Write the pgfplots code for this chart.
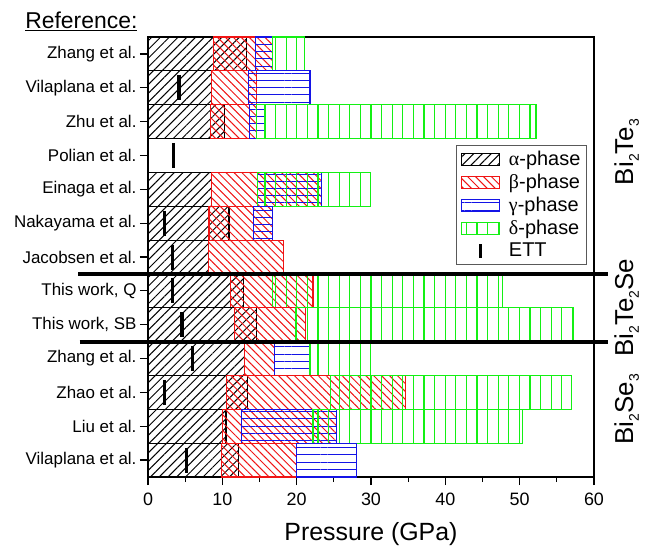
\documentclass[border=0pt]{standalone}
\usepackage{pgfplots}
\pgfplotsset{compat=1.18}
\usetikzlibrary{patterns.meta}
\usepackage{fontspec}
\setmainfont{Liberation Sans}
\newfontfamily\grk{Liberation Serif}

\definecolor{dgreen}{RGB}{20,240,20}
\definecolor{dblue}{RGB}{20,20,230}
\definecolor{dred}{RGB}{240,20,20}

\tikzset{
  alpha/.style={draw=black, line width=1.1bp, pattern={Lines[angle=45,distance=6.2bp,line width=1bp]}, pattern color=black},
  beta/.style={draw=dred, line width=1.1bp, pattern={Lines[angle=-45,distance=5.6bp,line width=1bp]}, pattern color=dred},
  gamma/.style={draw=dblue, line width=1.1bp, pattern={Lines[angle=0,distance=7.2bp,line width=1.1bp]}, pattern color=dblue},
  delta/.style={draw=dgreen, line width=1.1bp, pattern={Lines[angle=90,distance=10.6bp,line width=1.1bp]}, pattern color=dgreen},
}
\pgfplotsset{
  rectleg/.style={legend image code/.code={\draw[##1] (0bp,-6bp) rectangle (38bp,6bp);}},
  ettleg/.style={legend image code/.code={\draw[black, line width=3bp] (19bp,-7bp) -- (19bp,7bp);}},
}
\newcommand{\sub}[1]{\raisebox{-0.22em}{\fontsize{14}{14}\selectfont #1}}

% \seg{style}{row}{from}{to}
\newcommand{\seg}[4]{%
  \pgfmathsetmacro\ya{#2-0.5}\pgfmathsetmacro\yb{#2+0.5}%
  \edef\tmp{\noexpand\addplot[#1, forget plot] coordinates {(#3,\ya) (#4,\ya) (#4,\yb) (#3,\yb)} -- cycle;}\tmp}

\begin{document}
\begin{tikzpicture}
\begin{axis}[
    at={(0,0)}, anchor=south west,
    scale only axis, width=446bp, height=440bp,
    xmin=0, xmax=60, ymin=-0.5, ymax=12.5,
    clip=false,
    xtick={0,10,...,60}, minor x tick num=1,
    ytick={0,...,12},
    yticklabels={Vilaplana et al., Liu et al., Zhao et al., Zhang et al., {This work, SB}, {This work, Q},
      Jacobsen et al., Nakayama et al., Einaga et al., Polian et al., Zhu et al., Vilaplana et al., Zhang et al.},
    xtick pos=left, ytick pos=left, tick align=outside,
    major tick length=8bp, minor tick length=5bp,
    every tick/.style={black, line width=1.2bp},
    axis line style={line width=1.3bp},
    /pgf/number format/assume math mode=true,
    xticklabel style={font=\fontsize{18}{21}\selectfont, yshift=-4bp},
    yticklabel style={font=\fontsize{17}{20}\selectfont},
    xlabel={Pressure (GPa)},
    xlabel style={font=\fontsize{25}{30}\selectfont, at={(rel axis cs:0.5,0)}, anchor=base, yshift=-63bp},
    legend style={at={(rel axis cs:0.984,0.755)}, anchor=north east, draw=black!65, line width=1bp,
      nodes={font=\fontsize{20}{24}\selectfont, inner sep=2bp}, cells={anchor=west},
      inner sep=4bp, row sep=3bp, column sep=7bp},
]
% Bi2Te3
\seg{alpha}{12}{0}{13.3}\seg{beta}{12}{8.8}{16.8}\seg{gamma}{12}{14.5}{16.8}\seg{delta}{12}{16.8}{21.1}
\seg{alpha}{11}{0}{8.5}\seg{beta}{11}{8.5}{14.6}\seg{gamma}{11}{13.5}{21.8}
\seg{alpha}{10}{0}{10.3}\seg{beta}{10}{8.4}{14.6}\seg{gamma}{10}{13.6}{15.7}\seg{delta}{10}{14.6}{52.2}
\seg{alpha}{8}{0}{8.6}\seg{beta}{8}{8.6}{23.3}\seg{gamma}{8}{14.7}{23.3}\seg{delta}{8}{14.7}{29.9}
\seg{alpha}{7}{0}{10.9}\seg{beta}{7}{8.2}{16.8}\seg{gamma}{7}{14.2}{16.8}
\seg{alpha}{6}{0}{8.1}\seg{beta}{6}{8.1}{18.2}
% Bi2Te2Se
\seg{alpha}{5}{0}{12.8}\seg{beta}{5}{11.1}{22.2}\seg{delta}{5}{16.8}{47.7}
\seg{alpha}{4}{0}{14.6}\seg{beta}{4}{11.6}{21.2}\seg{delta}{4}{19.9}{57.3}
% Bi2Se3
\seg{alpha}{3}{0}{13.0}\seg{beta}{3}{13.0}{17.0}\seg{gamma}{3}{17.0}{21.8}\seg{delta}{3}{21.8}{29.9}
\seg{alpha}{2}{0}{13.4}\seg{beta}{2}{10.6}{34.6}\seg{delta}{2}{24.6}{57.0}
\seg{alpha}{1}{0}{10.5}\seg{beta}{1}{10.0}{25.4}\seg{gamma}{1}{12.6}{25.4}\seg{delta}{1}{22.2}{50.4}
\seg{alpha}{0}{0}{12.2}\seg{beta}{0}{9.9}{20.0}\seg{gamma}{0}{20.0}{28.0}

% ETT
\addplot[only marks, mark=|, mark size=12.5bp, mark options={line width=3.5bp, black}, forget plot]
  coordinates {(4.2,11) (3.4,9) (2.2,7) (3.3,6) (3.3,5) (4.6,4) (6.0,3) (2.2,2) (5.2,0)};

% group separators
\addplot[black, line width=4bp, forget plot] coordinates {(-9.4,5.5) (61.9,5.5)};
\addplot[black, line width=4bp, forget plot] coordinates {(-9.2,3.5) (61.9,3.5)};

\addlegendimage{alpha, rectleg}
\addlegendentry{{\grk α}-phase}
\addlegendimage{beta, rectleg}
\addlegendentry{{\grk β}-phase}
\addlegendimage{gamma, rectleg}
\addlegendentry{{\grk γ}-phase}
\addlegendimage{delta, rectleg}
\addlegendentry{{\grk δ}-phase}
\addlegendimage{ettleg}
\addlegendentry{ETT}

\node[rotate=90, font=\fontsize{26}{30}\selectfont] at (axis cs:64.4,9.1) {Bi\sub{2}Te\sub{3}};
\node[rotate=90, font=\fontsize{26}{30}\selectfont] at (axis cs:64.4,4.5) {Bi\sub{2}Te\sub{2}Se};
\node[rotate=90, font=\fontsize{26}{30}\selectfont] at (axis cs:64.4,1.5) {Bi\sub{2}Se\sub{3}};
\node[anchor=base west, font=\fontsize{23}{27}\selectfont] at (rel axis cs:-0.283,1.02) {\underline{Reference:}};
\end{axis}
\path (-148bp,-69bp) rectangle (498bp,477bp);
\end{tikzpicture}
\end{document}
